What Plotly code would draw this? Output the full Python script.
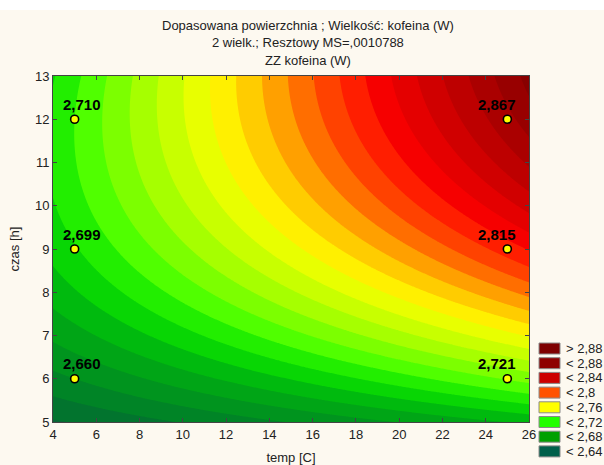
import numpy as np
import plotly.graph_objects as go

# Measured caffeine content (W) at the design points
temp_pts = [5, 5, 5, 25, 25, 25]          # temp [C]
czas_pts = [6, 9, 12, 6, 9, 12]           # czas [h]
kofeina_pts = [2.660, 2.699, 2.710, 2.721, 2.815, 2.867]

# Axis ranges and ticks
temp_range = [4, 26]
czas_range = [5, 13]
x_ticks = list(range(4, 27, 2))
y_ticks = list(range(5, 14))

# Contour levels
level_start, level_end, level_step = 2.63, 2.89, 0.01

# Fill colour of each band, from below the first level up to above the last
band_colors = [
    "#0A5A3E", "#0A6636", "#02742E", "#008426", "#00941E", "#00A516",
    "#00BA0E", "#08D604", "#22EE00", "#50FF00", "#7CFF00", "#A6FF00",
    "#C8FF00", "#E8FF00", "#FFF000", "#FFCC00", "#FFA000", "#FF6E00",
    "#FF4200", "#FF1E00", "#F60000", "#E40000", "#D00000", "#BD0000",
    "#AA0000", "#980000", "#880000", "#7A0000",
]

# Legend entries
legend_labels = ["> 2,88", "< 2,88", "< 2,84", "< 2,8", "< 2,76", "< 2,72", "< 2,68", "< 2,64"]
legend_colors = ["#7E0000", "#8E0000", "#CC0000", "#FF5200", "#FFFF00", "#22FF00", "#00A000", "#00604A"]

FONT = "Liberation Sans, Arial, sans-serif"
BG = "#FDF9F0"
TXT = "#222222"

# Fitted response surface: z = b0 + b1*T + b2*t + b3*t^2 + b4*T*t + b5*T*t^2
T = np.array(temp_pts, float)
t = np.array(czas_pts, float)
z = np.array(kofeina_pts, float)


def design(T, t):
    return np.column_stack([np.ones_like(T), T, t, t ** 2, T * t, T * t ** 2])


coef, *_ = np.linalg.lstsq(design(T, t), z, rcond=None)

xg = np.linspace(temp_range[0], temp_range[1], 441)
yg = np.linspace(czas_range[0], czas_range[1], 321)
XX, YY = np.meshgrid(xg, yg)
ZZ = (design(XX.ravel(), YY.ravel()) @ coef).reshape(XX.shape)

n = len(band_colors) - 1
colorscale = [[k / n, c] for k, c in enumerate(band_colors)]

fig = go.Figure()
fig.add_trace(go.Contour(
    x=xg, y=yg, z=ZZ,
    contours=dict(start=level_start, end=level_end, size=level_step, coloring="fill", showlines=False),
    line=dict(width=0),
    colorscale=colorscale,
    showscale=False,
    hoverinfo="skip",
))

fig.add_trace(go.Scatter(
    x=temp_pts, y=czas_pts, mode="markers",
    marker=dict(size=8, color="#FFFF00", line=dict(color="#000000", width=1.6)),
    hoverinfo="skip", showlegend=False,
))

annotations = []
for xv, yv, zv in zip(temp_pts, czas_pts, kofeina_pts):
    label = f"{zv:.3f}".replace(".", ",")
    annotations.append(dict(
        x=xv, y=yv, xref="x", yref="y", text=f"<b>{label}</b>", showarrow=False,
        xshift=7 if xv < 15 else -10, yshift=15,
        font=dict(family=FONT, size=15, color="#000000"),
    ))

# Title lines
title_lines = ["Dopasowana powierzchnia ; Wielkość: kofeina (W)",
               "2 wielk.; Resztowy MS=,0010788",
               "ZZ kofeina (W)"]
W, H = 604, 465
L, R, TOP, BOT = 53, 529, 76, 422
pw, ph = R - L, BOT - TOP


def px(xp):
    return (xp - L) / pw


def py(yp):
    return (BOT - yp) / ph


for line, yc in zip(title_lines, [25, 43, 60]):
    annotations.append(dict(
        x=px(308), y=py(yc), xref="paper", yref="paper", text=line, showarrow=False,
        xanchor="center", yanchor="middle", font=dict(family=FONT, size=13, color=TXT),
    ))

shapes = [
    # white strip along the top edge of the page
    dict(type="rect", xref="paper", yref="paper", x0=px(-5), x1=px(W + 5), y0=py(10), y1=py(-5),
         fillcolor="#FFFFFF", line=dict(width=0), layer="below"),
]

# Legend boxes
row_top, row_step, box_h = 343, 14.7, 11
for i, (lab, col) in enumerate(zip(legend_labels, legend_colors)):
    y0 = row_top + i * row_step
    shapes.append(dict(type="rect", xref="paper", yref="paper",
                       x0=px(539), x1=px(560), y0=py(y0 + box_h), y1=py(y0),
                       fillcolor=col, line=dict(color="#8A8A8A", width=1)))
    annotations.append(dict(x=px(564), y=py(y0 + box_h / 2), xref="paper", yref="paper",
                            text=lab, showarrow=False, xanchor="left", yanchor="middle",
                            font=dict(family=FONT, size=13, color=TXT)))

axis_common = dict(
    showline=True, linecolor="#444444", linewidth=1, mirror="ticks",
    ticks="inside", ticklen=4, tickcolor="#444444", tickwidth=1,
    showgrid=False, zeroline=False, automargin=False,
    tickfont=dict(family=FONT, size=13, color=TXT),
)

fig.update_layout(
    width=W, height=H,
    margin=dict(l=L, r=W - R, t=TOP, b=H - BOT),
    paper_bgcolor=BG, plot_bgcolor=BG,
    showlegend=False,
    xaxis=dict(range=temp_range, tickvals=x_ticks, title=dict(text="temp [C]", standoff=12,
               font=dict(family=FONT, size=13, color=TXT)), **axis_common),
    yaxis=dict(range=czas_range, tickvals=y_ticks, title=dict(text="czas [h]", standoff=12,
               font=dict(family=FONT, size=13, color=TXT)), **axis_common),
    annotations=annotations,
    shapes=shapes,
)

fig.write_html("out.html")
